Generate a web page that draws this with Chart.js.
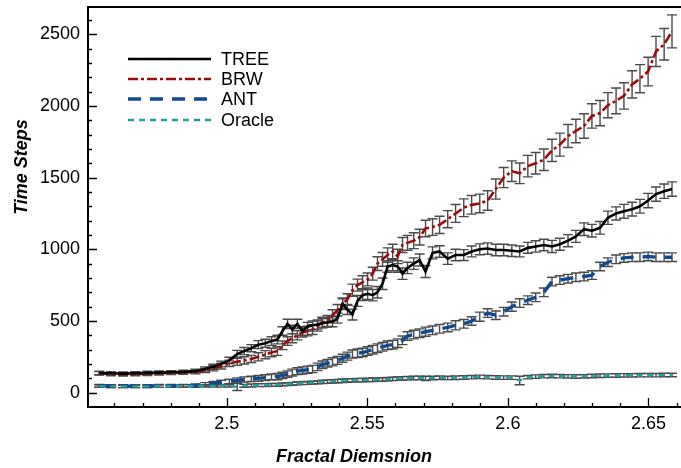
<!DOCTYPE html>
<html><head><meta charset="utf-8">
<script src="https://cdn.jsdelivr.net/npm/chart.js@4.4.1/dist/chart.umd.min.js"></script>
<style>html,body{margin:0;padding:0;background:#fff;}#wrap{width:681px;height:468px;position:relative;}</style>
</head><body><div id="wrap"><canvas id="c" width="681" height="468"></canvas></div>
<script>
// Shared x values (fractal dimension)
const fractalDim = [2.4546,2.4588,2.4631,2.4674,2.4717,2.4759,2.4802,2.4845,2.4888,
2.4923,2.4952,2.4980,2.5009,2.5037,2.5062,2.5087,2.5112,2.5137,2.5159,2.5180,
2.5198,2.5216,2.5233,2.5251,2.5269,2.5287,2.5305,2.5323,2.5340,2.5358,2.5376,2.5394,2.5412,2.5429,2.5447,2.5465,2.5483,2.5501,2.5519,2.5536,2.5554,2.5572,2.5590,2.5608,2.5625,2.5643,
2.5665,2.5686,2.5707,2.5732,2.5757,
2.5786,2.5814,2.5843,2.5871,2.5900,2.5928,2.5957,2.5985,2.6014,2.6042,2.6071,2.6099,2.6128,2.6157,2.6185,2.6214,2.6242,2.6271,2.6299,2.6328,2.6356,2.6385,2.6413,2.6442,2.6470,2.6499,2.6527,2.6556,2.6584];

const treeSteps = [137,135,133,135,138,140,142,145,150,
165,180,200,225,270,290,310,335,345,360,370,
430,480,440,480,430,460,470,475,485,490,495,520,620,580,545,640,680,690,680,700,760,880,890,880,830,870,
900,925,845,975,985,
935,960,960,985,1000,1005,995,995,990,985,1010,1020,1030,1020,1035,1060,1090,1140,1130,1150,1220,1250,1265,1280,1300,1340,1385,1405,1420];
const treeErr = [12,12,12,12,12,12,12,12,14,
15,18,20,22,25,25,25,28,28,30,30,
30,32,30,32,30,30,30,32,32,32,35,35,35,35,38,38,38,40,40,40,40,40,40,40,40,40,
40,42,42,42,40,
40,40,38,38,38,40,40,40,40,38,38,40,40,42,42,42,42,44,44,44,46,46,48,48,48,50,50,50,50];

const brwSteps = [135,130,128,130,132,135,138,140,145,
155,170,185,205,215,225,235,250,265,280,290,
330,360,380,400,420,430,440,465,490,500,540,575,620,650,715,750,770,790,830,900,930,960,985,950,1030,1045,
1060,1085,1145,1155,1170,
1210,1250,1290,1310,1320,1340,1420,1500,1545,1530,1580,1600,1625,1690,1730,1790,1825,1860,1930,1950,2005,2035,2070,2150,2190,2240,2380,2430,2520];
const brwErr = [12,12,12,12,12,12,12,12,14,
15,18,20,22,25,25,25,28,28,30,30,
30,30,32,32,32,34,34,36,36,38,38,40,40,40,42,42,45,45,45,48,48,50,50,50,52,52,
55,55,58,58,60,
60,62,62,65,65,68,70,70,72,72,75,75,75,78,80,80,82,85,85,88,88,90,92,95,98,100,105,110,115];

const antSteps = [48,46,45,45,46,47,47,48,50,
58,65,72,78,85,92,96,100,105,110,112,
120,130,140,150,155,160,165,180,195,205,215,225,240,255,270,275,280,290,300,310,320,330,335,345,365,395,
405,415,425,435,445,
455,470,480,500,530,555,540,565,600,625,645,665,700,775,785,795,805,810,820,880,910,930,940,945,945,950,945,945,945];
const antErr = [10,10,10,10,10,10,10,10,10,
12,14,15,16,18,18,18,20,20,20,22,
22,22,24,24,25,25,25,26,26,26,28,28,28,28,28,30,30,30,30,30,30,30,30,30,30,30,
30,30,32,30,30,
30,32,30,30,32,30,30,30,32,30,30,30,30,30,30,30,30,30,30,30,30,30,30,30,30,30,30,30,30];

const oracleSteps = [45,44,43,44,44,45,45,46,46,
47,48,48,47,40,48,50,52,53,54,55,
57,60,62,64,66,68,70,72,75,77,79,81,83,85,86,87,88,89,90,91,92,94,96,98,100,101,
102,103,100,102,104,
103,104,106,108,110,108,106,105,105,85,108,112,115,116,115,114,113,114,116,118,119,120,121,121,122,122,122,123,123];
const oracleErr = [8,8,8,8,8,8,8,8,8,
8,8,8,8,25,10,10,10,10,10,10,
10,10,10,10,10,10,10,10,12,12,12,12,12,12,12,12,12,12,12,12,12,12,12,12,12,12,
12,12,15,12,12,
12,12,12,12,12,12,12,12,12,30,12,12,12,12,12,12,12,12,12,12,12,12,12,12,12,12,12,12,12];

const seriesNames = ['TREE','BRW','ANT','Oracle'];
const xTickValues = [2.5, 2.55, 2.6, 2.65];
const yTickValues = [0, 500, 1000, 1500, 2000, 2500];
const xTitle = 'Fractal Diemsnion';
const yTitle = 'Time Steps';

const FONT = "'Liberation Sans', Arial, Helvetica, sans-serif";
const styles = {
  TREE:   {color:'#000000', width:2.6, dash:[]},
  BRW:    {color:'#9a0c0c', width:2.6, dash:[10,3,3,3]},
  ANT:    {color:'#0f4a8f', width:3.4, dash:[13,9]},
  Oracle: {color:'#22a0a0', width:2.4, dash:[6,5]}
};

function pts(ys){ return fractalDim.map((x,i)=>({x:x, y:ys[i]})); }
function ds(name, ys, errs){
  const s = styles[name];
  return {label:name, data:pts(ys), errs:errs, borderColor:s.color, backgroundColor:s.color,
    borderWidth:s.width, borderDash:s.dash, pointRadius:0, tension:0, fill:false};
}

const errorBars = {
  id:'errorBars',
  beforeDatasetsDraw(chart){
    const ctx = chart.ctx, xs = chart.scales.x, ys = chart.scales.y, a = chart.chartArea;
    ctx.save();
    ctx.beginPath(); ctx.rect(a.left, a.top, a.right-a.left, a.bottom-a.top); ctx.clip();
    ctx.strokeStyle = '#4a4a4a'; ctx.lineWidth = 1.4; ctx.setLineDash([]);
    chart.data.datasets.forEach(d=>{
      d.data.forEach((p,i)=>{
        const e = d.errs[i];
        const px = xs.getPixelForValue(p.x);
        const y1 = ys.getPixelForValue(p.y - e), y2 = ys.getPixelForValue(p.y + e);
        ctx.beginPath();
        ctx.moveTo(px, y1); ctx.lineTo(px, y2);
        ctx.moveTo(px-5, y1); ctx.lineTo(px+5, y1);
        ctx.moveTo(px-5, y2); ctx.lineTo(px+5, y2);
        ctx.stroke();
      });
    });
    ctx.restore();
  }
};

const frame = {
  id:'frame',
  afterDraw(chart){
    const ctx = chart.ctx, xs = chart.scales.x, ys = chart.scales.y, a = chart.chartArea;
    ctx.save();
    ctx.strokeStyle = '#000'; ctx.setLineDash([]);
    ctx.lineWidth = 2;
    ctx.beginPath();
    ctx.moveTo(a.right+2, a.top); ctx.lineTo(a.left, a.top); ctx.lineTo(a.left, a.bottom); ctx.lineTo(a.right+2, a.bottom);
    ctx.stroke();
    ctx.lineWidth = 1.3;
    ctx.beginPath();
    for (let k = 246; k <= 266; k++){
      const v = k/100; const px = Math.round(xs.getPixelForValue(v))+0.5;
      if (px <= a.left+1 || px >= a.right) continue;
      const len = (k % 5 === 0) ? 9 : 4;
      ctx.moveTo(px, a.bottom); ctx.lineTo(px, a.bottom - len);
    }
    for (let v = 0; v <= 2600; v += 100){
      const py = Math.round(ys.getPixelForValue(v))+0.5;
      const len = (v % 500 === 0) ? 9 : 4;
      ctx.moveTo(a.left, py); ctx.lineTo(a.left + len, py);
    }
    ctx.stroke();
    // titles
    ctx.fillStyle = '#000';
    ctx.font = "italic bold 18px " + FONT;
    ctx.textAlign = 'center'; ctx.textBaseline = 'middle';
    ctx.fillText(xTitle, 354, 457);
    ctx.save(); ctx.translate(22, 167); ctx.rotate(-Math.PI/2); ctx.fillText(yTitle, 0, 0); ctx.restore();
    // legend
    const rows = [59, 79, 99, 120];
    seriesNames.forEach((n,i)=>{
      const s = styles[n];
      ctx.strokeStyle = s.color; ctx.lineWidth = s.width; ctx.setLineDash(s.dash);
      ctx.beginPath(); ctx.moveTo(128, rows[i]); ctx.lineTo(211, rows[i]); ctx.stroke();
      ctx.setLineDash([]);
      ctx.fillStyle = '#000'; ctx.font = "18px " + FONT; ctx.textAlign = 'left'; ctx.textBaseline = 'middle';
      ctx.fillText(n, 221, rows[i] + 1);
    });
    ctx.restore();
  }
};

new Chart(document.getElementById('c'), {
  type:'line',
  data:{datasets:[ds('TREE',treeSteps,treeErr), ds('BRW',brwSteps,brwErr), ds('Oracle',oracleSteps,oracleErr), ds('ANT',antSteps,antErr)]},
  options:{
    responsive:false, animation:false, devicePixelRatio:1,
    layout:{padding:{left:0, right:0, top:7, bottom:0}},
    plugins:{legend:{display:false}, tooltip:{enabled:false}},
    scales:{
      x:{type:'linear', min:2.4506, max:2.6616,
        grid:{display:false, drawTicks:false}, border:{display:false},
        afterBuildTicks(s){ s.ticks = xTickValues.map(v=>({value:v})); },
        afterFit(s){ s.height = 61; s.paddingLeft = 0; s.paddingRight = 0; },
        ticks:{color:'#000', padding:6, maxRotation:0, autoSkip:false, font:{family:FONT, size:18},
          callback:(v)=>String(Math.round(v*100)/100)}},
      y:{type:'linear', min:-100, max:2690,
        grid:{display:false, drawTicks:false}, border:{display:false},
        afterBuildTicks(s){ s.ticks = yTickValues.map(v=>({value:v})); },
        afterFit(s){ s.width = 88; s.paddingTop = 0; s.paddingBottom = 0; },
        ticks:{color:'#000', padding:8, autoSkip:false, font:{family:FONT, size:18},
          callback:(v)=>String(v)}}
    }
  },
  plugins:[errorBars, frame]
});
</script></body></html>
